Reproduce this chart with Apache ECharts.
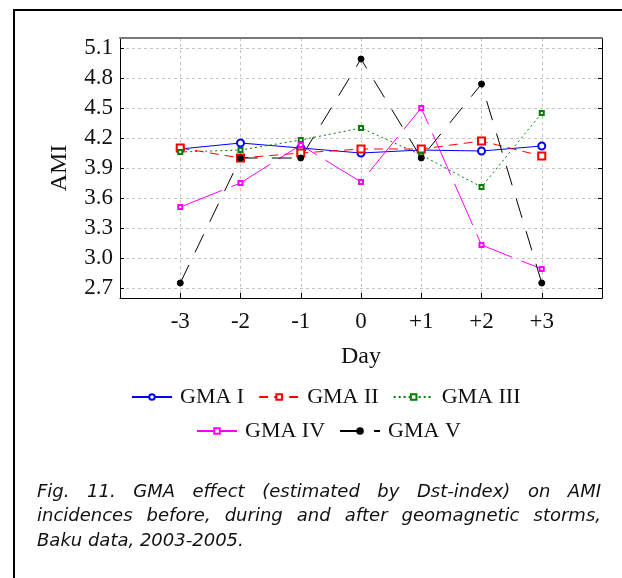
<!DOCTYPE html>
<html>
<head>
<meta charset="utf-8">
<script src="https://cdn.jsdelivr.net/npm/echarts@6/dist/echarts.min.js"></script>
<style>
  html, body { margin: 0; padding: 0; background: #fff; }
  #chart { width: 622px; height: 578px; }
</style>
</head>
<body>
<div id="chart"></div>
<script>
// Datos del gráfico
const days = [-3, -2, -1, 0, 1, 2, 3];
const dayLabels = ['-3', '-2', '-1', '0', '+1', '+2', '+3'];
const yTicks = [2.7, 3.0, 3.3, 3.6, 3.9, 4.2, 4.5, 4.8, 5.1];

const gma1 = [4.09, 4.15, 4.10, 4.05, 4.08, 4.07, 4.12];
const gma2 = [4.10, 4.00, 4.05, 4.09, 4.09, 4.17, 4.02];
const gma3 = [4.06, 4.08, 4.18, 4.30, 4.03, 3.71, 4.45];
const gma4 = [3.51, 3.75, 4.13, 3.76, 4.50, 3.13, 2.89];
const gma5 = [2.75, 4.00, 4.00, 4.99, 4.00, 4.74, 2.75];

const caption = [
    'Fig. 11. GMA effect (estimated by Dst-index) on AMI',
    'incidences before, during and after geomagnetic storms,',
    'Baku data, 2003-2005.'
];

document.addEventListener('DOMContentLoaded', function () {

    var chartDom = document.getElementById('chart');
    var myChart = echarts.init(chartDom);

    const serif = '"Liberation Serif", "Times New Roman", serif';
    const gridLine = { show: true, lineStyle: { color: '#c4c4c4', type: [3, 3], width: 1 } };

    function pairs(vals) {
        return days.map((d, i) => [d, vals[i]]);
    }

    function mkSeries(name, vals, color, dash, symbol, size) {
        return {
            name: name,
            type: 'line',
            data: pairs(vals),
            symbol: symbol,
            symbolSize: size,
            showSymbol: true,
            lineStyle: { color: color, width: 1, type: dash },
            itemStyle: { color: color, borderColor: color, borderWidth: 1 },
            emphasis: { disabled: true },
            animation: false,
            z: 3
        };
    }

    // Texto del pie justificado a mano
    const cap = [];
    const ctx = document.createElement('canvas').getContext('2d');
    const capFont = 'italic 18px "DejaVu Sans"';
    ctx.font = capFont;
    const capLeft = 37, capRight = 601;
    const capY = [492, 516.5, 541];
    caption.forEach((line, li) => {
        if (li === caption.length - 1) {
            cap.push({ type: 'text', x: capLeft, y: capY[li],
                style: { text: line, font: capFont, fill: '#111', verticalAlign: 'middle' } });
            return;
        }
        const words = line.split(' ');
        const widths = words.map(w => ctx.measureText(w).width);
        const total = widths.reduce((a, b) => a + b, 0);
        const gap = (capRight - capLeft - total) / (words.length - 1);
        let x = capLeft;
        words.forEach((w, i) => {
            cap.push({ type: 'text', x: x, y: capY[li],
                style: { text: w, font: capFont, fill: '#111', verticalAlign: 'middle' } });
            x += widths[i] + gap;
        });
    });

    const legendBase = {
        itemWidth: 40, itemHeight: 7, itemGap: 14, padding: 0,
        textStyle: { fontFamily: serif, fontSize: 22, color: '#111', padding: [0, 0, 0, 3] },
        selectedMode: false
    };

    var option = {
        backgroundColor: '#fff',
        animation: false,
        grid: { left: 120, right: 20, top: 38, bottom: 280 },
        legend: [
            Object.assign({ data: ['GMA I', 'GMA II', 'GMA III'], left: 131, top: 386 }, legendBase),
            Object.assign({ data: ['GMA IV', 'GMA V'], left: 196, top: 420 }, legendBase)
        ],
        xAxis: [
            {
                type: 'value', min: -4, max: 4, interval: 1,
                name: 'Day', nameLocation: 'middle', nameGap: 47,
                nameTextStyle: { fontFamily: serif, fontSize: 24, color: '#111' },
                axisLine: { onZero: false, lineStyle: { color: '#000', width: 1 } },
                axisTick: { inside: true, length: 5, lineStyle: { color: '#000' } },
                axisLabel: {
                    margin: 12, fontFamily: serif, fontSize: 23, color: '#111',
                    formatter: v => (v >= -3 && v <= 3) ? dayLabels[v + 3] : ''
                },
                splitLine: gridLine
            },
            {
                type: 'value', min: -4, max: 4, interval: 1, position: 'top',
                axisLine: { show: true, onZero: false, lineStyle: { color: '#7a7a7a', width: 2 } },
                axisTick: { show: false }, axisLabel: { show: false }, splitLine: { show: false }
            }
        ],
        yAxis: [
            {
                type: 'value', min: 2.6, max: 5.2, position: 'left',
                name: 'AMI', nameLocation: 'middle', nameGap: 48, nameRotate: 90,
                nameTextStyle: { fontFamily: serif, fontSize: 24, color: '#111' },
                axisLine: { show: true, onZero: false, lineStyle: { color: '#000', width: 1 } },
                axisTick: { show: true, inside: true, length: 4, customValues: yTicks, lineStyle: { color: '#000' } },
                axisLabel: {
                    margin: 7, fontFamily: serif, fontSize: 23, color: '#111',
                    customValues: yTicks, formatter: v => v.toFixed(1)
                },
                splitLine: gridLine
            },
            {
                type: 'value', min: 2.6, max: 5.2, position: 'right',
                axisLine: { show: true, onZero: false, lineStyle: { color: '#000', width: 1 } },
                axisTick: { show: true, inside: true, length: 4, customValues: yTicks, lineStyle: { color: '#000' } },
                axisLabel: { show: false }, splitLine: { show: false }
            }
        ],
        series: [
            mkSeries('GMA I', gma1, '#0000ff', 'solid', 'emptyCircle', 7),
            mkSeries('GMA II', gma2, '#ff0000', [9, 6], 'emptyRect', 7),
            mkSeries('GMA III', gma3, '#008000', [2, 3], 'emptyRect', 4),
            mkSeries('GMA IV', gma4, '#ff00ff', [45, 10], 'emptyRect', 4),
            mkSeries('GMA V', gma5, '#000000', [20, 14], 'circle', 6)
        ],
        graphic: [
            {
                type: 'polyline', silent: true,
                shape: { points: [[14, 578], [14, 10], [622, 10]] },
                style: { stroke: '#000', lineWidth: 2, fill: null }
            }
        ].concat(cap)
    };

    myChart.setOption(option);

    window.addEventListener('resize', function () {
        myChart.resize();
    });
});
</script>
</body>
</html>
